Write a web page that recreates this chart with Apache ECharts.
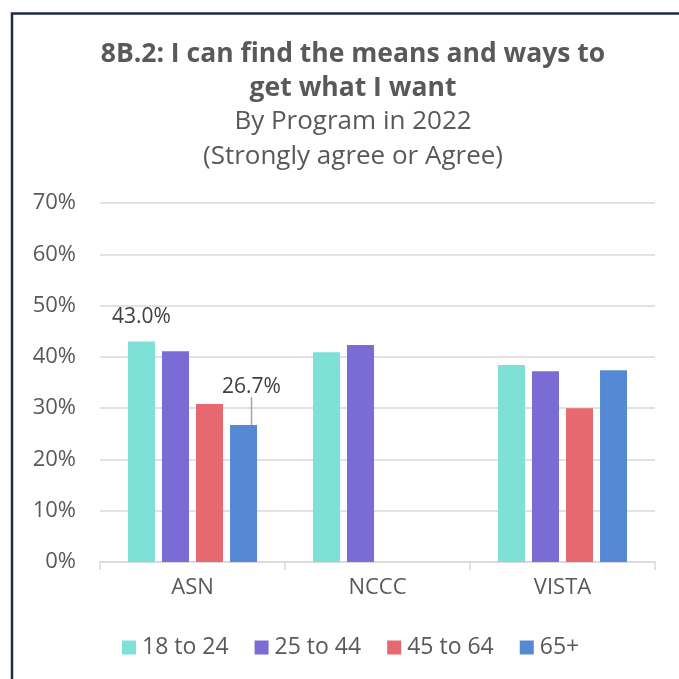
<!DOCTYPE html>
<html>
<head>
<meta charset="utf-8">
<script src="https://cdn.jsdelivr.net/npm/echarts@6/dist/echarts.min.js"></script>
<style>
  html, body { margin: 0; padding: 0; background: #fff; }
  #chart { width: 679px; height: 679px; }
</style>
</head>
<body>
<div id="chart"></div>
<script>
// 数据
var programs = ["ASN", "NCCC", "VISTA"];
var seriesNames = ["18 to 24", "25 to 44", "45 to 64", "65+"];
var age18to24 = [43.0, 40.9, 38.4];
var age25to44 = [41.1, 42.3, 37.2];
var age45to64 = [30.8, null, 30.0];
var age65plus = [26.7, null, 37.4];
var yTicks = [0, 10, 20, 30, 40, 50, 60, 70];

var colors = ["#7fe0d8", "#7b6bd4", "#e5696f", "#5689d3"];
var font = "Open Sans";

// 只给 ASN 的两根柱子加标签
function withLabel(values, idx) {
  return values.map(function (v, i) {
    if (i !== idx) return v;
    return { value: v, label: { show: true } };
  });
}

var chart = echarts.init(document.getElementById("chart"));

var barLabel = {
  show: false,
  position: "top",
  distance: 14,
  fontFamily: font,
  fontSize: 21,
  color: "#404040",
  formatter: function (p) { return p.value.toFixed(1) + "%"; }
};

var option = {
  color: colors,
  textStyle: { fontFamily: font },
  title: [
    {
      text: "8B.2: I can find the means and ways to\nget what I want",
      left: 348,
      top: 32,
      textAlign: "center",
      textStyle: { fontFamily: font, fontSize: 26.5, fontWeight: "bold", color: "#595959", lineHeight: 34 }
    },
    {
      text: "By Program in 2022\n(Strongly agree or Agree)",
      left: 348,
      top: 99,
      textAlign: "center",
      textStyle: { fontFamily: font, fontSize: 26, fontWeight: "normal", color: "#595959", lineHeight: 35 }
    }
  ],
  graphic: [
    {
      type: "polyline",
      shape: { points: [[12, 690], [12, 13.5], [690, 13.5]] },
      style: { stroke: "#1c2a48", lineWidth: 2.5, fill: null },
      silent: true
    }
  ],
  legend: {
    data: seriesNames,
    bottom: 15,
    left: 117,
    itemWidth: 14,
    itemHeight: 14,
    itemGap: 26,
    icon: "rect",
    textStyle: { fontFamily: font, fontSize: 23, color: "#595959", padding: [0, 0, 0, 1] }
  },
  grid: { left: 100, right: 24, top: 203, bottom: 117 },
  xAxis: {
    type: "category",
    data: programs,
    axisLine: { lineStyle: { color: "#d9d9d9", width: 1.5 } },
    axisTick: { show: true, length: 8, lineStyle: { color: "#d9d9d9", width: 1.5 } },
    axisLabel: { fontFamily: font, fontSize: 22, color: "#595959", margin: 15 }
  },
  yAxis: {
    type: "value",
    min: 0,
    max: 70,
    interval: 10,
    axisLine: { show: false },
    axisTick: { show: false },
    splitLine: { lineStyle: { color: "#d9d9d9", width: 1.5 } },
    axisLabel: {
      fontFamily: font, fontSize: 22, color: "#595959", margin: 24,
      formatter: function (v) { return yTicks.indexOf(v) >= 0 ? v + "%" : ""; }
    }
  },
  series: [
    {
      name: seriesNames[0], type: "bar", barWidth: 27, barGap: "26%",
      label: barLabel,
      data: withLabel(age18to24, 0)
    },
    {
      name: seriesNames[1], type: "bar", barWidth: 27, barGap: "26%",
      data: age25to44
    },
    {
      name: seriesNames[2], type: "bar", barWidth: 27, barGap: "26%",
      data: age45to64
    },
    {
      name: seriesNames[3], type: "bar", barWidth: 27, barGap: "26%",
      label: barLabel,
      labelLine: { show: true, lineStyle: { color: "#a6a6a6", width: 1.5 } },
      labelLayout: { dx: 8, dy: -14 },
      data: withLabel(age65plus, 0)
    }
  ]
};

chart.setOption(option);
window.addEventListener("resize", function () { chart.resize(); });
</script>
</body>
</html>
